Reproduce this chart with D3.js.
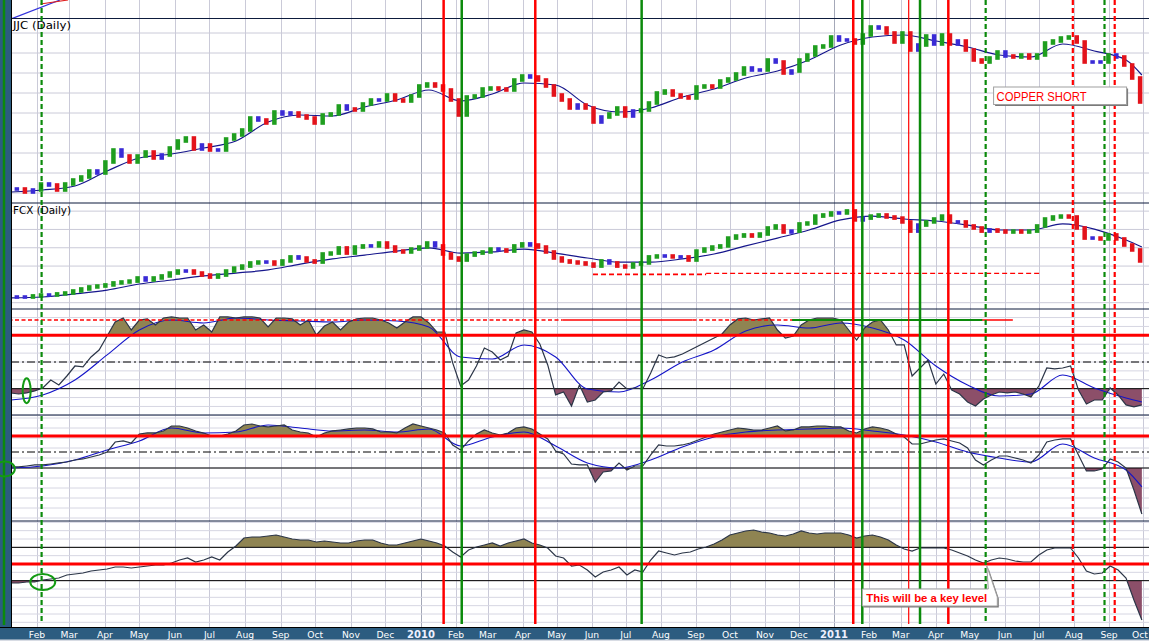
<!DOCTYPE html>
<html><head><meta charset="utf-8">
<script src="https://cdn.jsdelivr.net/npm/d3@7"></script>
<style>
html,body{margin:0;padding:0;background:#fff;overflow:hidden;}
svg{display:block;}
</style></head><body>
<svg id="c" width="1149" height="641"></svg>
<script>
// ---------------- DATA (weekly readings, Fridays from 2009-01-09 to 2011-09-30) ----------------
const jjcClose = [
24.8,24.8,24.2,24.6,25.8,25.6,24.6,25.8,26.6,27.2,
28.4,28.0,30.2,32.6,31.4,30.2,31.4,32.2,31.0,31.6,
33.0,34.4,35.0,32.8,33.6,32.6,32.6,34.8,35.6,36.6,
39.0,38.6,38.0,40.2,39.8,40.0,39.4,39.0,38.0,39.6,
39.8,41.4,40.8,40.6,41.8,42.6,42.6,43.6,42.6,42.4,
43.4,45.4,45.8,45.4,44.6,42.6,39.6,43.2,43.4,44.8,
45.0,44.8,44.6,46.6,47.4,47.2,46.6,45.4,43.6,42.6,
41.0,41.6,41.0,38.2,39.2,39.8,41.0,39.4,40.4,40.6,
42.0,44.0,44.4,43.6,43.2,43.0,45.2,45.4,45.2,46.4,
46.8,47.8,49.0,48.6,48.6,50.6,50.2,48.0,48.4,50.6,
51.6,53.2,53.4,55.2,54.6,54.6,54.0,55.6,57.2,57.0,
56.0,54.2,56.0,52.6,53.6,55.4,53.8,55.6,53.8,54.4,
52.6,50.6,50.2,51.0,52.2,51.4,51.2,51.6,51.0,51.6,
54.0,54.4,55.0,55.2,54.2,50.2,50.2,50.2,51.6,51.2,
49.6,47.0,42.2];
const fcxClose = [
13.1,13.1,13.1,13.7,14.2,14.2,14.8,15.3,16.4,17.5,
18.6,19.1,19.7,20.8,21.3,21.8,23.5,22.4,23.5,24.6,
26.2,27.3,27.3,26.2,25.1,24.0,25.1,27.3,28.9,30.0,
31.7,32.2,32.2,31.1,32.8,35.0,34.4,32.8,32.2,36.6,
37.1,39.9,37.1,40.4,41.0,41.0,42.6,40.4,38.2,37.7,
39.3,40.4,42.6,41.0,36.6,34.4,33.3,36.0,37.1,37.7,
39.3,38.8,38.2,41.0,42.1,41.5,40.4,37.7,34.4,32.8,
32.2,31.7,31.1,30.0,32.8,31.7,30.0,29.5,31.1,31.7,
35.0,35.5,35.5,35.0,35.0,33.3,38.2,39.3,40.4,41.0,
45.3,46.4,47.0,46.4,47.5,50.8,51.9,48.6,49.1,53.0,
53.5,57.3,57.9,59.0,59.0,60.1,55.2,56.2,57.3,57.9,
56.8,56.2,54.1,49.1,52.4,54.1,55.7,57.3,54.1,54.1,
51.9,50.8,49.1,49.7,49.1,48.6,49.1,48.6,49.1,51.9,
55.7,56.8,57.3,56.8,50.8,45.3,45.3,44.8,47.0,44.8,
41.5,38.8,32.8];
const osc1 = [
26.8,26.0,26.8,28.3,30.5,36.5,32.8,39.5,47.0,46.3,
53.8,59.0,69.5,80.0,83.0,74.0,81.5,82.3,77.8,83.0,
83.8,83.0,83.0,74.0,77.8,72.5,83.8,83.8,83.0,83.8,
83.8,83.0,76.3,83.0,83.0,82.3,77.8,81.5,70.3,77.0,
80.0,74.0,80.0,82.3,83.0,83.0,81.5,79.3,75.5,80.0,
83.8,83.8,79.3,72.5,72.5,49.3,32.0,36.5,47.0,60.5,
57.5,51.5,54.5,71.8,74.0,72.5,63.5,47.8,25.3,27.5,
17.0,32.8,20.0,21.5,27.5,28.3,35.0,29.8,30.5,29.8,
41.8,55.3,53.0,53.8,56.0,59.0,62.0,65.0,68.0,71.0,
77.8,82.3,83.0,81.5,82.3,83.0,74.0,68.0,69.5,77.8,
81.5,83.0,83.0,83.0,81.5,74.0,66.5,75.5,80.0,81.5,
74.0,62.8,62.8,39.5,45.5,51.5,33.5,41.0,29.0,26.0,
20.0,17.0,22.3,25.3,27.5,26.8,27.5,26.0,23.8,32.0,
45.5,44.8,45.5,47.0,29.0,18.5,21.5,21.5,30.5,25.3,
17.8,16.3,17.8];
const osc2 = [
31.3,31.3,32.5,33.8,33.8,35.0,36.3,37.5,40.0,41.3,
43.8,46.3,50.0,62.5,63.8,61.3,72.5,73.8,73.8,76.3,
82.5,82.5,80.0,76.3,73.8,70.0,70.0,72.5,76.3,83.8,
85.0,82.5,81.3,82.5,83.8,77.5,75.0,73.8,68.8,73.8,
76.3,77.5,78.8,80.0,80.0,78.8,75.0,75.0,73.8,80.0,
85.0,82.5,80.0,77.5,73.8,58.8,52.5,63.8,72.5,77.5,
73.8,71.3,73.8,80.0,81.3,78.8,72.5,66.3,51.3,47.5,
35.0,33.8,33.8,12.5,25.0,26.3,36.3,27.5,32.5,32.5,
46.3,58.8,57.5,57.5,58.8,61.3,65.0,68.8,72.5,75.0,
77.5,80.0,78.8,77.5,77.5,80.0,82.5,76.3,77.5,81.3,
81.3,82.5,82.5,81.3,81.3,76.3,73.8,78.8,81.3,80.0,
77.5,72.5,68.8,60.0,60.0,62.5,65.0,66.3,63.8,61.3,
55.0,40.0,33.8,40.0,45.0,45.0,42.5,40.0,36.3,46.3,
62.5,65.0,66.3,66.3,46.3,26.3,26.3,28.8,41.3,37.5,
30.0,2.5,-27.5];
const osc3 = [
27.2,27.2,28.4,28.4,30.8,32.0,33.2,36.8,38.0,39.2,
41.6,42.8,44.0,46.4,46.4,45.2,46.4,47.6,48.8,48.8,
51.2,54.8,57.2,52.4,54.8,58.4,54.8,64.4,71.6,81.2,
82.4,82.4,83.6,84.8,82.4,80.0,78.8,78.8,76.4,77.6,
76.4,75.2,75.2,77.6,78.8,78.8,75.2,72.8,72.8,75.2,
77.6,80.0,77.6,75.2,71.6,64.4,58.4,66.8,70.4,72.8,
75.2,71.6,75.2,77.6,80.0,75.2,72.8,69.2,59.6,57.2,
47.6,48.8,42.8,34.4,40.4,42.8,46.4,36.8,42.8,40.4,
54.8,65.6,63.2,60.8,63.2,64.4,68.0,70.4,74.0,78.8,
84.8,87.2,89.6,90.8,88.4,87.2,84.8,83.6,86.0,89.6,
87.2,86.0,87.2,87.2,87.2,84.8,81.2,83.6,84.8,82.4,
78.8,72.8,68.0,65.6,69.2,69.2,69.2,69.2,66.8,63.2,
59.6,54.8,51.2,54.8,57.2,56.0,53.6,52.4,52.4,60.8,
66.8,69.2,69.2,69.2,57.2,41.6,38.0,39.2,47.6,42.8,
33.2,6.8,-17.2];
// moving averages, read every 4th week (plus the last week)
const jjcMA = [24.2,24.6,25.4,28.4,31.0,31.8,33.0,34.4,38.2,39.6,39.4,41.2,42.6,44.6,42.4,43.8,46.0,45.6,41.6,40.2,41.0,43.2,44.8,47.0,48.4,50.6,53.6,55.2,55.6,54.4,53.2,51.6,51.2,53.8,52.4,50.6,47.6];
const fcxMA = [12.6,13.1,14.8,16.9,20.2,22.4,24.6,26.2,27.9,31.1,33.9,36.0,38.2,39.9,37.1,37.7,39.3,37.1,34.4,32.2,32.2,33.9,36.6,41.0,45.3,49.7,55.2,57.3,55.7,54.6,52.4,49.7,49.7,53.0,50.2,44.2,40.4];
const osc1MA = [21.5,25.3,36.5,55.3,74.0,81.5,79.3,83.0,81.5,80.8,80.0,81.5,80.8,76.3,53.8,52.3,62.8,53.8,29.8,27.5,36.5,50.0,59.0,73.3,77.8,75.5,79.3,75.5,66.5,47.0,32.8,24.5,26.0,40.3,30.5,23.0,20.0];
const osc2MA = [30.0,32.5,40.0,52.5,63.8,80.0,73.8,75.0,83.8,80.0,76.3,77.5,75.0,78.8,57.5,68.8,75.0,57.5,36.3,30.0,40.0,56.3,68.8,75.0,77.5,78.8,80.0,76.3,71.3,62.5,50.0,42.5,37.5,60.0,42.5,27.5,6.3];
// tick labels
const monthLabels = ['Jan','Feb','Mar','Apr','May','Jun','Jul','Aug','Sep','Oct','Nov','Dec'];
// vertical annotation lines
const redSolidDates = ['2010-01-21','2010-04-12','2011-01-18','2011-04-12'];
const redThinDates = ['2011-03-08'];
const greenSolidDates = ['2010-02-06','2010-07-15','2011-01-26','2011-03-18'];
const greenDashDates = ['2009-02-05','2011-05-15','2011-08-28'];
const redDashDates = ['2011-07-31','2011-09-06'];
// horizontal annotation segments
const osc1Level = 81.5;
const osc1Segments = [['2009-01-01','2010-05-06','dash'],['2010-05-06','2010-08-29','solid'],['2010-08-29','2010-11-25','dash'],['2010-11-25','2011-06-08','solid']];
const osc1Green = [['2010-11-25','2011-05-12']];
const fcxLevels = [[25.5,'2010-06-02','2010-09-10'],[26.05,'2010-09-10','2011-07-03']];
// small sliver of the panel above
const sliverBlue = [['2009-01-03',-1.5],['2009-02-21',10]];
const sliverRed = [['2009-02-04',7.9],['2009-02-28',10]];
// circled points
const circles = [['2009-01-23','p1',28.5],['2009-01-04','p2',28.8],['2009-02-06','p3',28.4]];
// notes
const noteCopper = {text:'COPPER SHORT', date:'2011-05-22', value:45.2};
const noteKey = {text:'This will be a key level', date:'2011-01-26', value:20, tipDate:'2011-05-16', tipValue:47.6};

// ---------------- SETUP ----------------
const W = 1149, H = 641, L = 11, R = 1149, B = 627;
const parse = d3.timeParse('%Y-%m-%d');
const weeks = d3.timeFriday.range(new Date(2009,0,9), new Date(2011,9,1));
const maWeeks = weeks.filter((d,i)=> i%4===0 || i===weeks.length-1);
const x = d3.scaleTime()
  .domain([new Date(2009,1,1), new Date(2010,0,1), new Date(2011,0,1), new Date(2011,9,1)])
  .range([37,421,834,1143]);
const yJ = d3.scaleLinear().domain([22,58.8]).range([203,19]);
const yF = d3.scaleLinear().domain([6.56,64.44]).range([309,203]);
const y1 = d3.scaleLinear().domain([10.25,89.75]).range([415,309]);
const y2 = d3.scaleLinear().domain([-36.25,96.25]).range([521,415]);
const y3 = d3.scaleLinear().domain([-25.6,101.6]).range([627,521]);
const ySl = d3.scaleLinear().domain([0,10]).range([19,0]);
const yMap = {p1:y1,p2:y2,p3:y3};

const C = {
  green:'#1f9e1f', red:'#e3131b', blue:'#3a2bd6', ma:'#16168c',
  osc:'#2b3547', oscMA:'#1414c8', olive:'#8f8452', mauve:'#8c4f69',
  annRed:'#ff0000', annGreen:'#0b8a0b', frame:'#0d1b3d', grid:'#cacad8', grid2:'#d6d6e2', gridJan:'#a4a8b8',
  band:'#2c5c80'
};

const svg = d3.select('#c');
svg.append('rect').attr('width',W).attr('height',H).attr('fill','#fff');
const defs = svg.append('defs');
defs.append('clipPath').attr('id','plot').append('rect').attr('x',L).attr('y',0).attr('width',R-L).attr('height',B);
defs.append('clipPath').attr('id','sliver').append('rect').attr('x',L).attr('y',0).attr('width',R-L).attr('height',18.5);

const plot = svg.append('g').attr('clip-path','url(#plot)');

// month grid
const months = d3.timeMonth.range(new Date(2009,0,1), new Date(2011,10,1));
plot.append('g').selectAll('line').data(months).join('line')
  .attr('x1',d=>Math.round(x(d))+0.5).attr('x2',d=>Math.round(x(d))+0.5)
  .attr('y1',0).attr('y2',B)
  .attr('stroke',d=>d.getMonth()===0?C.gridJan:C.grid).attr('stroke-width',1);

// horizontal grids
function hgrid(vals, ys, col){
  plot.append('g').selectAll('line').data(vals).join('line')
    .attr('x1',L).attr('x2',R).attr('y1',d=>ys(d)).attr('y2',d=>ys(d))
    .attr('stroke',col||C.grid).attr('stroke-width',1);
}
hgrid(d3.range(24,57,4), yJ);
hgrid(d3.range(10,61,10), yF);
hgrid(d3.range(10,90,20/3), y1, C.grid2);
hgrid(d3.range(-32.5,96,12.5), y2, C.grid2);
hgrid(d3.range(-20,101,10), y3, C.grid2);

// sliver of the upper panel
const slG = svg.append('g').attr('clip-path','url(#sliver)');
const slLine = d3.line().x(d=>x(parse(d[0]))).y(d=>ySl(d[1]));
slG.append('path').attr('d',slLine(sliverBlue)).attr('fill','none').attr('stroke','#3333dd').attr('stroke-width',1.2);
slG.append('path').attr('d',slLine(sliverRed)).attr('fill','none').attr('stroke','#e02020').attr('stroke-width',1.2);

// threshold fills for oscillators
function fills(vals, ys, up, lo, id){
  const top = ys.range()[1], bot = ys.range()[0];
  defs.append('clipPath').attr('id',id+'u').append('rect').attr('x',L).attr('y',top).attr('width',R-L).attr('height',ys(up)-top);
  defs.append('clipPath').attr('id',id+'l').append('rect').attr('x',L).attr('y',ys(lo)).attr('width',R-L).attr('height',bot-ys(lo));
  const aU = d3.area().x((d,i)=>x(weeks[i])).y0(ys(up)).y1(d=>ys(d));
  const aL = d3.area().x((d,i)=>x(weeks[i])).y0(ys(lo)).y1(d=>ys(d));
  plot.append('g').attr('clip-path',`url(#${id}u)`).append('path').attr('d',aU(vals)).attr('fill',C.olive);
  plot.append('g').attr('clip-path',`url(#${id}l)`).append('path').attr('d',aL(vals)).attr('fill',C.mauve);
}
fills(osc1, y1, 70, 30, 'f1');
fills(osc2, y2, 70, 30, 'f2');
fills(osc3, y3, 70, 30, 'f3');

// level lines
function hline(ys, v, color, w, dash){
  const l = plot.append('line').attr('x1',L).attr('x2',R).attr('y1',ys(v)).attr('y2',ys(v))
    .attr('stroke',color).attr('stroke-width',w);
  if(dash) l.attr('stroke-dasharray',dash);
}
hline(y1,30,'#000',1); hline(y1,50,'#000',1,'8,3,2,3');
hline(y2,30,'#000',1); hline(y2,50,'#000',1,'8,3,2,3');
hline(y3,70,'#000',1); hline(y3,30,'#000',1);

// panel separators
[yJ(58.8)-0.5, yJ(22), yF(6.56), y2(96.25), y3(101.6)].forEach(yv=>{
  svg.append('line').attr('x1',L).attr('x2',R).attr('y1',yv).attr('y2',yv).attr('stroke',C.frame).attr('stroke-width',1.2);
});

// price MA + bars
const maLine = ys => d3.line().x((d,i)=>x(maWeeks[i])).y(d=>ys(d)).curve(d3.curveMonotoneX);
function bars(vals, ys){
  const g = plot.append('g');
  vals.forEach((v,i)=>{
    const p = i>0?vals[i-1]:v, p2 = i>1?vals[i-2]:p;
    let c = C.blue;
    if(v>p && v>=p2) c = C.green; else if(v<p && v<=p2) c = C.red;
    const hi = Math.max(p,v), lo = Math.min(p,v);
    const xc = x(weeks[i]);
    g.append('rect').attr('x',xc-4).attr('width',4.5)
      .attr('y',ys(hi)-1.8).attr('height',ys(lo)-ys(hi)+3.6).attr('fill',c);
  });
}
plot.append('path').attr('d',maLine(yJ)(jjcMA)).attr('fill','none').attr('stroke',C.ma).attr('stroke-width',1.2);
bars(jjcClose, yJ);
plot.append('path').attr('d',maLine(yF)(fcxMA)).attr('fill','none').attr('stroke',C.ma).attr('stroke-width',1.2);
bars(fcxClose, yF);

// FCX dashed levels
fcxLevels.forEach((s,k)=>{
  plot.append('line').attr('x1',x(parse(s[1]))).attr('x2',x(parse(s[2])))
    .attr('y1',yF(s[0])).attr('y2',yF(s[0])).attr('stroke',C.annRed)
    .attr('stroke-width',k===0?1.8:1.2).attr('stroke-dasharray','5,3');
});

// oscillator lines
const oscLine = ys => d3.line().x((d,i)=>x(weeks[i])).y(d=>ys(d));
[[osc1,y1,osc1MA],[osc2,y2,osc2MA],[osc3,y3,null]].forEach(([v,ys,ma])=>{
  if(ma) plot.append('path').attr('d',maLine(ys)(ma)).attr('fill','none').attr('stroke',C.oscMA).attr('stroke-width',1.1);
  plot.append('path').attr('d',oscLine(ys)(v)).attr('fill','none').attr('stroke',C.osc).attr('stroke-width',1.2);
});

// red thick levels
hline(y1,70,C.annRed,3); hline(y2,70,C.annRed,3); hline(y3,50,C.annRed,3);

// osc1 annotation level
osc1Segments.forEach(s=>{
  const l = svg.append('line').attr('x1',Math.max(2,x(parse(s[0])))).attr('x2',x(parse(s[1])))
    .attr('y1',y1(osc1Level)).attr('y2',y1(osc1Level)).attr('stroke',C.annRed).attr('stroke-width',1.3);
  if(s[2]==='dash') l.attr('stroke-dasharray','4,2.5');
});
osc1Green.forEach(s=>{
  svg.append('line').attr('x1',x(parse(s[0]))).attr('x2',x(parse(s[1])))
    .attr('y1',y1(osc1Level)).attr('y2',y1(osc1Level)).attr('stroke',C.annGreen).attr('stroke-width',2);
});

// left border
svg.append('rect').attr('x',0).attr('y',0).attr('width',L).attr('height',B).attr('fill',C.band);
svg.append('line').attr('x1',L+0.5).attr('x2',L+0.5).attr('y1',0).attr('y2',B).attr('stroke','#000').attr('stroke-width',1);
svg.append('line').attr('x1',4).attr('x2',4).attr('y1',0).attr('y2',625).attr('stroke',C.annGreen).attr('stroke-width',2.5);

// vertical annotation lines
function vlines(dates, color, w, dash){
  dates.forEach(s=>{
    const xv = x(parse(s));
    const l = svg.append('line').attr('x1',xv).attr('x2',xv).attr('y1',0).attr('y2',624)
      .attr('stroke',color).attr('stroke-width',w);
    if(dash) l.attr('stroke-dasharray',dash);
  });
}
vlines(redSolidDates, C.annRed, 2.5);
vlines(redThinDates, C.annRed, 1.2);
vlines(greenSolidDates, C.annGreen, 2.5);
vlines(greenDashDates, C.annGreen, 2.2, '5,3');
vlines(redDashDates, C.annRed, 2.2, '5,3');

// circles
const radii = [[4,12.5],[10,7.5],[12.5,8]];
circles.forEach((c,k)=>{
  svg.append('ellipse').attr('cx',x(parse(c[0]))).attr('cy',yMap[c[1]](c[2]))
    .attr('rx',radii[k][0]).attr('ry',radii[k][1]).attr('fill','none')
    .attr('stroke','#139a13').attr('stroke-width',2);
});

// panel labels
svg.append('text').attr('x',13).attr('y',29).text('JJC (Daily)')
  .attr('font-family','DejaVu Sans, sans-serif').attr('font-size',10.5).attr('fill','#000')
  .attr('textLength',58).attr('lengthAdjust','spacingAndGlyphs');
svg.append('text').attr('x',13).attr('y',214).text('FCX (Daily)')
  .attr('font-family','DejaVu Sans, sans-serif').attr('font-size',10.5).attr('fill','#000')
  .attr('textLength',58).attr('lengthAdjust','spacingAndGlyphs');

// notes
(function(){
  const bx = x(parse(noteCopper.date)), by = yJ(noteCopper.value), bw = 133, bh = 17.5;
  svg.append('rect').attr('x',bx+1.5).attr('y',by+1.5).attr('width',bw).attr('height',bh).attr('fill','#7a7a7a');
  svg.append('rect').attr('x',bx).attr('y',by).attr('width',bw).attr('height',bh).attr('fill','#fff').attr('stroke','#a0a0a0').attr('stroke-width',1);
  svg.append('text').attr('x',bx+3).attr('y',by+14).text(noteCopper.text)
    .attr('font-family','Liberation Sans, Arial, sans-serif').attr('font-size',13).attr('fill','#f00')
    .attr('textLength',90).attr('lengthAdjust','spacingAndGlyphs');
})();
(function(){
  const bx = x(parse(noteKey.date)), by = y3(noteKey.value), bw = 135, bh = 17;
  const tx = x(parse(noteKey.tipDate)), ty = y3(noteKey.tipValue);
  const pts = [[bx,by],[bx+bw-9,by],[tx,ty],[bx+bw,by+8],[bx+bw,by+bh],[bx,by+bh]];
  svg.append('polygon').attr('points',pts.map(p=>[p[0]+1.5,p[1]+1.5].join(',')).join(' ')).attr('fill','#7a7a7a');
  svg.append('polygon').attr('points',pts.map(p=>p.join(',')).join(' ')).attr('fill','#fff').attr('stroke','#a0a0a0').attr('stroke-width',1);
  svg.append('text').attr('x',bx+4).attr('y',by+13).text(noteKey.text)
    .attr('font-family','Liberation Sans, Arial, sans-serif').attr('font-size',11.5).attr('font-weight','bold').attr('fill','#f00')
    .attr('textLength',121).attr('lengthAdjust','spacingAndGlyphs');
})();

// bottom axis band
svg.append('rect').attr('x',0).attr('y',B).attr('width',W).attr('height',H-B).attr('fill',C.band);
svg.append('line').attr('x1',0).attr('x2',W).attr('y1',B+0.5).attr('y2',B+0.5).attr('stroke','#000').attr('stroke-width',1);
svg.append('rect').attr('x',0).attr('y',H-1.5).attr('width',W).attr('height',1.5).attr('fill','#d8dce4');
const tickMonths = months.filter(d=>x(d)>L+5);
svg.append('g').selectAll('text').data(tickMonths).join('text')
  .attr('x',d=>Math.min(x(d), W-9)).attr('y',638).attr('text-anchor','middle')
  .attr('font-family','DejaVu Sans, sans-serif')
  .attr('font-size',d=>d.getMonth()===0?10:9.2)
  .attr('font-weight',d=>d.getMonth()===0?'bold':'normal')
  .attr('fill',d=>d.getMonth()===0?'#eef0ff':'#fff')
  .text(d=>d.getMonth()===0?String(d.getFullYear()):monthLabels[d.getMonth()]);
</script>
</body></html>
